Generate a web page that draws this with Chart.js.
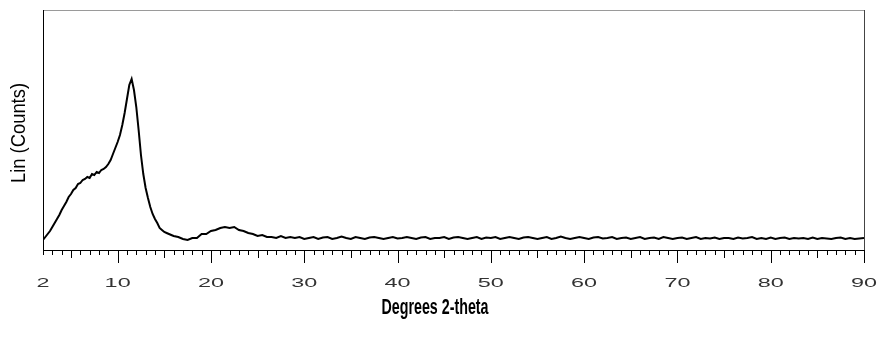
<!DOCTYPE html>
<html>
<head>
<meta charset="utf-8">
<script src="https://cdn.jsdelivr.net/npm/chart.js@4/dist/chart.umd.min.js"></script>
<style>
  html, body { margin: 0; padding: 0; background: #fff; }
  canvas { display: block; }
</style>
</head>
<body>
<canvas id="xrd" width="877" height="339"></canvas>
<script>
// XRD scan (counts are relative)
const twoTheta = [
  2, 2.25, 2.5, 2.75, 3, 3.25, 3.5, 3.75, 4, 4.25, 4.5, 4.75, 5, 5.25, 5.5, 5.75,
  6, 6.25, 6.5, 6.75, 7, 7.25, 7.5, 7.75, 8, 8.25, 8.5, 8.75, 9, 9.25, 9.5, 9.75,
  10, 10.25, 10.5, 10.75, 11, 11.25, 11.5, 11.75, 12, 12.25, 12.5, 12.75, 13, 13.25,
  13.5, 13.75, 14, 14.25, 14.5, 14.75, 15, 15.25, 15.5, 15.75, 16,
  16.5, 17, 17.5, 18, 18.5, 19, 19.5, 20, 20.5, 21, 21.5, 22, 22.5, 23, 23.5, 24,
  24.5, 25, 25.5, 26, 26.5, 27, 27.5, 28, 28.5, 29, 29.5, 30,
  30.5, 31, 31.5, 32, 32.5, 33, 33.5, 34, 34.5, 35,
  35.5, 36, 36.5, 37, 37.5, 38, 38.5, 39, 39.5, 40,
  40.5, 41, 41.5, 42, 42.5, 43, 43.5, 44, 44.5, 45,
  45.5, 46, 46.5, 47, 47.5, 48, 48.5, 49, 49.5, 50,
  50.5, 51, 51.5, 52, 52.5, 53, 53.5, 54, 54.5, 55,
  55.5, 56, 56.5, 57, 57.5, 58, 58.5, 59, 59.5, 60,
  60.5, 61, 61.5, 62, 62.5, 63, 63.5, 64, 64.5, 65,
  65.5, 66, 66.5, 67, 67.5, 68, 68.5, 69, 69.5, 70,
  70.5, 71, 71.5, 72, 72.5, 73, 73.5, 74, 74.5, 75,
  75.5, 76, 76.5, 77, 77.5, 78, 78.5, 79, 79.5, 80,
  80.5, 81, 81.5, 82, 82.5, 83, 83.5, 84, 84.5, 85,
  85.5, 86, 86.5, 87, 87.5, 88, 88.5, 89, 89.5, 90
];
const counts = [
  10, 13, 16, 19, 23, 27, 31, 35, 40, 44, 48, 53, 56, 60, 62, 66,
  67, 70, 71, 73, 72, 76, 75, 78, 77, 80, 81, 83, 86, 90, 96, 102,
  108, 115, 125, 137, 151, 165, 171, 160, 143, 120, 95, 76, 62, 52,
  43, 36, 31, 27, 22, 20, 18, 17, 16, 15, 14,
  13, 11, 10, 12, 12, 16, 16, 19, 20, 22, 23, 22, 23, 20, 19, 17,
  16, 14, 15, 13, 13, 12, 14, 12, 13, 12, 13, 11,
  12, 13, 11, 12.5, 13, 11, 12, 13.5, 12, 11,
  13, 12, 11, 12.5, 13, 12, 11, 12, 13, 11.5,
  12, 13, 12, 11, 12.5, 13, 11, 12, 12, 13,
  11, 12.5, 13, 12, 11, 12, 13, 11, 12.5, 12,
  13, 11, 12, 13, 12, 11, 12.5, 13, 12, 11,
  12, 13, 11, 12, 13.5, 12, 11, 12, 13, 12,
  11, 12.5, 13, 11.5, 12, 13, 11, 12, 12.5, 11,
  12, 13, 11, 12, 12.5, 11, 13, 12, 11, 12,
  12.5, 11, 12, 13, 11, 12, 11.5, 12.5, 11, 12,
  12, 11, 12.5, 11.5, 12, 13, 11, 12, 11, 12.5,
  11, 12, 12.5, 11, 12, 11.5, 12, 11, 12.5, 11,
  12, 11.5, 11, 12, 12.5, 11, 12, 11, 11.5, 12
];
const tickLabels = [2, 10, 20, 30, 40, 50, 60, 70, 80, 90];
const xMin = 2, xMax = 90, minorStep = 1;
const xTitle = 'Degrees 2-theta';
const yTitle = 'Lin (Counts)';

// frame, ticks and titles drawn on top of the chart area
const xrdFrame = {
  id: 'xrdFrame',
  afterDraw(chart) {
    const { ctx, chartArea: a, scales: { x } } = chart;
    ctx.save();
    ctx.lineWidth = 1;

    // box
    ctx.strokeStyle = '#9a9a9a';
    ctx.beginPath(); ctx.moveTo(a.left, a.top + 0.5); ctx.lineTo(a.right, a.top + 0.5); ctx.stroke();
    ctx.strokeStyle = '#444';
    ctx.beginPath(); ctx.moveTo(a.right + 0.5, a.top); ctx.lineTo(a.right + 0.5, a.bottom); ctx.stroke();
    ctx.strokeStyle = '#000';
    ctx.beginPath();
    ctx.moveTo(a.left + 0.5, a.top); ctx.lineTo(a.left + 0.5, a.bottom + 0.5);
    ctx.lineTo(a.right + 1, a.bottom + 0.5);
    ctx.stroke();

    // ticks below the axis
    ctx.beginPath();
    for (let v = xMin; v <= xMax; v += minorStep) {
      const px = Math.round(x.getPixelForValue(v)) + 0.5;
      const len = v % 10 === 0 ? 13 : v % 5 === 0 ? 8 : 5;
      ctx.moveTo(px, a.bottom);
      ctx.lineTo(px, a.bottom + len);
    }
    ctx.stroke();

    // wide tick labels
    ctx.fillStyle = '#333';
    ctx.font = '12px "Liberation Sans", Arial, sans-serif';
    ctx.textAlign = 'center';
    ctx.textBaseline = 'middle';
    tickLabels.forEach(v => {
      const px = x.getPixelForValue(v);
      ctx.save();
      ctx.translate(px, 284);
      ctx.scale(1.95, 1);
      ctx.fillText(String(v), 0, 0);
      ctx.restore();
    });

    // x title, bold and condensed
    ctx.fillStyle = '#000';
    ctx.font = 'bold 22px "Liberation Sans", Arial, sans-serif';
    ctx.textBaseline = 'alphabetic';
    let w = ctx.measureText(xTitle).width;
    ctx.save();
    ctx.translate(435, 314);
    ctx.scale(107 / w, 1);
    ctx.fillText(xTitle, 0, 0);
    ctx.restore();

    // y title, rotated
    ctx.font = '20px "Liberation Sans", Arial, sans-serif';
    ctx.textBaseline = 'middle';
    w = ctx.measureText(yTitle).width;
    ctx.save();
    ctx.translate(19, 133);
    ctx.rotate(-Math.PI / 2);
    ctx.scale(100 / w, 1);
    ctx.fillText(yTitle, 0, 0);
    ctx.restore();

    ctx.restore();
  }
};

new Chart(document.getElementById('xrd'), {
  type: 'line',
  data: {
    datasets: [{
      data: twoTheta.map((t, i) => ({ x: t, y: counts[i] })),
      borderColor: '#000',
      borderWidth: 2,
      pointRadius: 0,
      tension: 0,
      fill: false
    }]
  },
  options: {
    responsive: false,
    animation: false,
    devicePixelRatio: 1,
    layout: { padding: { left: 43, right: 13, top: 10, bottom: 89 } },
    plugins: { legend: { display: false }, tooltip: { enabled: false } },
    scales: {
      x: { type: 'linear', min: xMin, max: xMax, display: false },
      y: { min: 0, max: 240, display: false }
    }
  },
  plugins: [xrdFrame]
});
</script>
</body>
</html>
